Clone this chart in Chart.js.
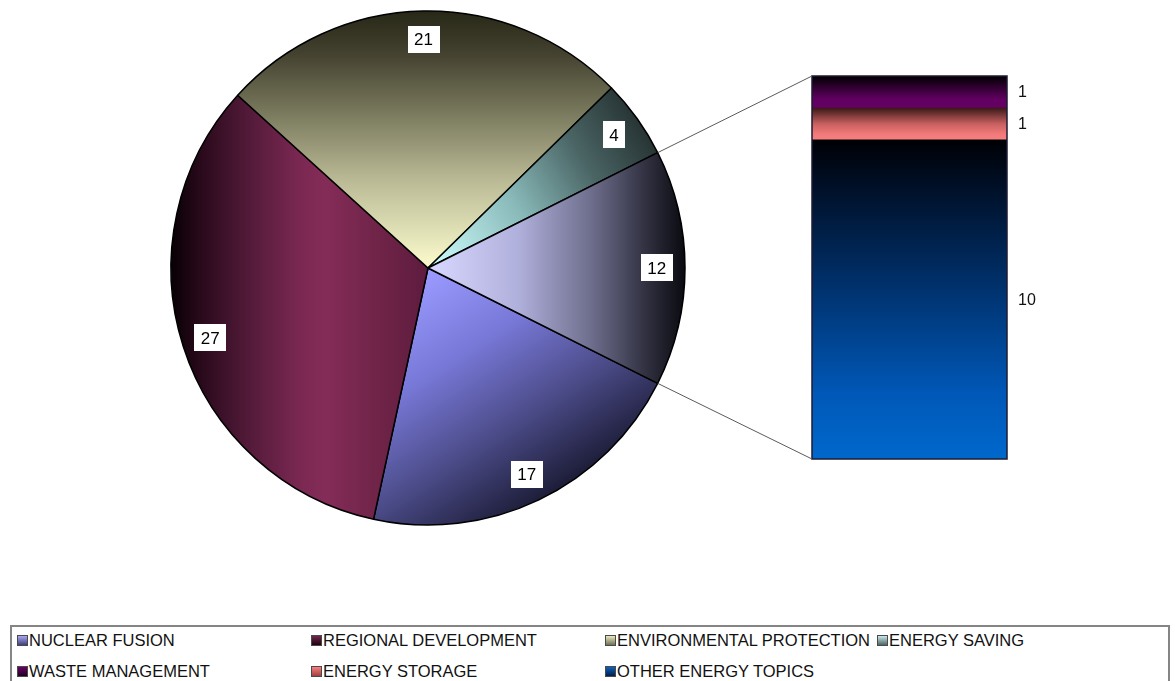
<!DOCTYPE html>
<html>
<head>
<meta charset="utf-8">
<script src="https://cdn.jsdelivr.net/npm/chart.js@4/dist/chart.umd.min.js"></script>
<style>
  html, body { margin: 0; padding: 0; background: #ffffff; }
  #wrap { position: relative; width: 1175px; height: 681px; overflow: hidden;
          font-family: "Liberation Sans", Arial, sans-serif; }
  #pieCanvas, #barCanvas { position: absolute; left: 0; top: 0; }
  #legend { position: absolute; left: 10px; top: 625px; width: 1160px; height: 80px;
            box-sizing: border-box; border: 2px solid #858585; background: #fff; }
  .item { position: absolute; display: flex; align-items: center; font-size: 16.5px;
          color: #111; white-space: nowrap; line-height: 1; }
  .swatch { width: 9px; height: 9px; border: 1px solid #4a4a4a; margin-right: 1px; }
</style>
</head>
<body>
<div id="wrap">
  <canvas id="pieCanvas" width="1175" height="620"></canvas>
  <canvas id="barCanvas" width="1175" height="620"></canvas>
  <div id="legend"></div>
</div>
<script>
// Projects per topic: the four main topics go in the pie,
// the three smaller ones are broken out into the stacked column.
const pieCategories = ['NUCLEAR FUSION', 'REGIONAL DEVELOPMENT', 'ENVIRONMENTAL PROTECTION', 'ENERGY SAVING'];
const pieValues = [17, 27, 21, 4];
const barCategories = ['WASTE MANAGEMENT', 'ENERGY STORAGE', 'OTHER ENERGY TOPICS'];
const barValues = [1, 1, 10];
const legendOrder = ['NUCLEAR FUSION', 'REGIONAL DEVELOPMENT', 'ENVIRONMENTAL PROTECTION', 'ENERGY SAVING',
                     'WASTE MANAGEMENT', 'ENERGY STORAGE', 'OTHER ENERGY TOPICS'];

// Fill styles
const PIE_RADIUS = 257;
const pieGradients = {
  'NUCLEAR FUSION':           { from: [0, 0.02], to: [0.6, 0.95],
    stops: [[0, '#9a9aff'], [0.3, '#7878d8'], [0.6, '#4c4c8a'], [1, '#0a0a18']] },
  'REGIONAL DEVELOPMENT':     { from: [-1, 0], to: [0, 0],
    stops: [[0, '#080004'], [0.12, '#2a0a1c'], [0.3, '#521a38'], [0.5, '#7a2852'], [0.6, '#842c58'], [0.8, '#702448'], [1, '#5e1c3e']] },
  'ENVIRONMENTAL PROTECTION': { from: [0, -1], to: [0, 0],
    stops: [[0, '#282818'], [0.15, '#403e2c'], [0.4, '#7a7a5e'], [0.65, '#b8b894'], [1, '#fcfcce']] },
  'ENERGY SAVING':            { from: [0, 0], to: [0.9, -0.55],
    stops: [[0, '#d0ffff'], [0.4, '#88b8b8'], [0.7, '#4a6464'], [1, '#202a2a']] },
  'OTHER':                    { from: [0, 0], to: [1, 0],
    stops: [[0, '#d8d8ff'], [0.35, '#b0b0dc'], [0.65, '#6a6a88'], [0.85, '#303040'], [1, '#0a0a10']] }
};
const barGradients = {
  'WASTE MANAGEMENT':    [[0, '#000000'], [0.7, '#5e005e'], [1, '#680068']],
  'ENERGY STORAGE':      [[0, '#3a1818'], [0.5, '#c86060'], [0.8, '#f07878'], [1, '#f88080']],
  'OTHER ENERGY TOPICS': [[0, '#000005'], [0.15, '#001028'], [0.45, '#00306a'], [0.8, '#0058b8'], [1, '#0068cc']]
};
const swatchColors = {
  'NUCLEAR FUSION': ['#a8a8ec', '#404080'],
  'REGIONAL DEVELOPMENT': ['#70284c', '#200010'],
  'ENVIRONMENTAL PROTECTION': ['#e8e8c0', '#707058'],
  'ENERGY SAVING': ['#c8e8e8', '#506464'],
  'WASTE MANAGEMENT': ['#6a0066', '#200020'],
  'ENERGY STORAGE': ['#f88080', '#a04040'],
  'OTHER ENERGY TOPICS': ['#1060b8', '#002050']
};

const otherTotal = barValues.reduce((a, b) => a + b, 0);
const pieLabels = pieCategories.concat(['OTHER']);
const pieData = pieValues.concat([otherTotal]);
const pieTotal = pieData.reduce((a, b) => a + b, 0);
// Rotate so the combined slice is centred on the right-hand side.
const pieRotation = 90 + (otherTotal / pieTotal) * 180;

function pieFill(ctx) {
  const chart = ctx.chart;
  const area = chart.chartArea;
  const spec = pieGradients[pieLabels[ctx.dataIndex]];
  if (!area || !spec) return spec ? spec.stops[1][1] : '#888';
  const cx = (area.left + area.right) / 2, cy = (area.top + area.bottom) / 2, R = PIE_RADIUS;
  const g = chart.ctx.createLinearGradient(cx + spec.from[0] * R, cy + spec.from[1] * R,
                                           cx + spec.to[0] * R, cy + spec.to[1] * R);
  spec.stops.forEach(s => g.addColorStop(s[0], s[1]));
  return g;
}

const pieLabelPlugin = {
  id: 'pieValueBoxes',
  afterDatasetsDraw(chart) {
    const c = chart.ctx;
    const meta = chart.getDatasetMeta(0);
    c.save();
    c.font = '17px "Liberation Sans", Arial, sans-serif';
    c.textAlign = 'center';
    c.textBaseline = 'middle';
    meta.data.forEach((arc, i) => {
      const mid = (arc.startAngle + arc.endAngle) / 2;
      const r = arc.outerRadius * 0.89;
      const x = arc.x + Math.cos(mid) * r, y = arc.y + Math.sin(mid) * r;
      const txt = String(pieData[i]);
      const w = c.measureText(txt).width + 13, h = 27;
      c.fillStyle = '#ffffff';
      c.fillRect(Math.round(x - w / 2), Math.round(y - h / 2), Math.round(w), h);
      c.fillStyle = '#000000';
      c.fillText(txt, x, y + 1);
    });
    c.restore();
  }
};

const pieChart = new Chart(document.getElementById('pieCanvas'), {
  type: 'pie',
  data: {
    labels: pieLabels,
    datasets: [{
      data: pieData,
      backgroundColor: pieFill,
      borderColor: '#000000',
      borderWidth: 1.5
    }]
  },
  options: {
    responsive: false,
    animation: false,
    rotation: pieRotation,
    radius: PIE_RADIUS,
    layout: { padding: { left: 0, top: 0, right: 1175 - 856, bottom: 620 - 536 } },
    plugins: { legend: { display: false }, tooltip: { enabled: false } }
  },
  plugins: [pieLabelPlugin]
});

// Stacked column: first dataset sits at the bottom.
const stackOrder = barCategories.slice().reverse();
const stackValues = barValues.slice().reverse();

function barFill(ctx) {
  const chart = ctx.chart;
  const y = chart.scales && chart.scales.y;
  const name = stackOrder[ctx.datasetIndex];
  const stops = barGradients[name];
  if (!y || !chart.chartArea) return stops[stops.length - 1][1];
  let base = 0;
  for (let k = 0; k < ctx.datasetIndex; k++) base += stackValues[k];
  const top = y.getPixelForValue(base + stackValues[ctx.datasetIndex]);
  const bottom = y.getPixelForValue(base);
  const g = chart.ctx.createLinearGradient(0, top, 0, bottom);
  stops.forEach(s => g.addColorStop(s[0], s[1]));
  return g;
}

const barDecorPlugin = {
  id: 'barDecor',
  afterDatasetsDraw(chart) {
    const c = chart.ctx;
    const metas = chart.data.datasets.map((d, i) => chart.getDatasetMeta(i).data[0]);
    const topEl = metas[metas.length - 1], botEl = metas[0];
    const left = botEl.x - botEl.width / 2, right = botEl.x + botEl.width / 2;
    const top = topEl.y, bottom = botEl.base;
    c.save();
    // outline of the whole column
    c.strokeStyle = '#1c1c34';
    c.lineWidth = 1.5;
    c.strokeRect(left, top, right - left, bottom - top);
    // connector lines from the combined pie slice to the column
    const arc = pieChart.getDatasetMeta(0).data[pieData.length - 1];
    const pr = arc.outerRadius;
    c.strokeStyle = '#5a5a5a';
    c.lineWidth = 1;
    c.beginPath();
    c.moveTo(arc.x + Math.cos(arc.startAngle) * pr, arc.y + Math.sin(arc.startAngle) * pr);
    c.lineTo(left, top);
    c.moveTo(arc.x + Math.cos(arc.endAngle) * pr, arc.y + Math.sin(arc.endAngle) * pr);
    c.lineTo(left, bottom);
    c.stroke();
    // value labels beside each segment
    c.font = '16px "Liberation Sans", Arial, sans-serif';
    c.fillStyle = '#111111';
    c.textAlign = 'left';
    c.textBaseline = 'middle';
    metas.forEach((el, i) => {
      c.fillText(String(stackValues[i]), right + 11, (el.y + el.base) / 2 + 1);
    });
    c.restore();
  }
};

new Chart(document.getElementById('barCanvas'), {
  type: 'bar',
  data: {
    labels: ['OTHER'],
    datasets: stackOrder.map((name, i) => ({
      label: name,
      data: [stackValues[i]],
      backgroundColor: barFill,
      borderWidth: 0,
      barPercentage: 1,
      categoryPercentage: 1
    }))
  },
  options: {
    responsive: false,
    animation: false,
    layout: { padding: { left: 812, right: 1175 - 1007, top: 76, bottom: 620 - 459 } },
    scales: {
      x: { display: false, stacked: true },
      y: { display: false, stacked: true, min: 0, max: otherTotal }
    },
    plugins: { legend: { display: false }, tooltip: { enabled: false } }
  },
  plugins: [barDecorPlugin]
});

// Legend below the chart
const legend = document.getElementById('legend');
const colLeft = [5, 299, 593, 865];
const rowTop = [5, 36];
legendOrder.forEach((name, i) => {
  const item = document.createElement('div');
  item.className = 'item';
  item.style.left = colLeft[i % 4] + 'px';
  item.style.top = rowTop[Math.floor(i / 4)] + 'px';
  const sw = document.createElement('span');
  sw.className = 'swatch';
  const sc = swatchColors[name];
  sw.style.background = 'linear-gradient(to bottom, ' + sc[0] + ', ' + sc[1] + ')';
  const tx = document.createElement('span');
  tx.textContent = name;
  item.appendChild(sw);
  item.appendChild(tx);
  legend.appendChild(item);
});
</script>
</body>
</html>
